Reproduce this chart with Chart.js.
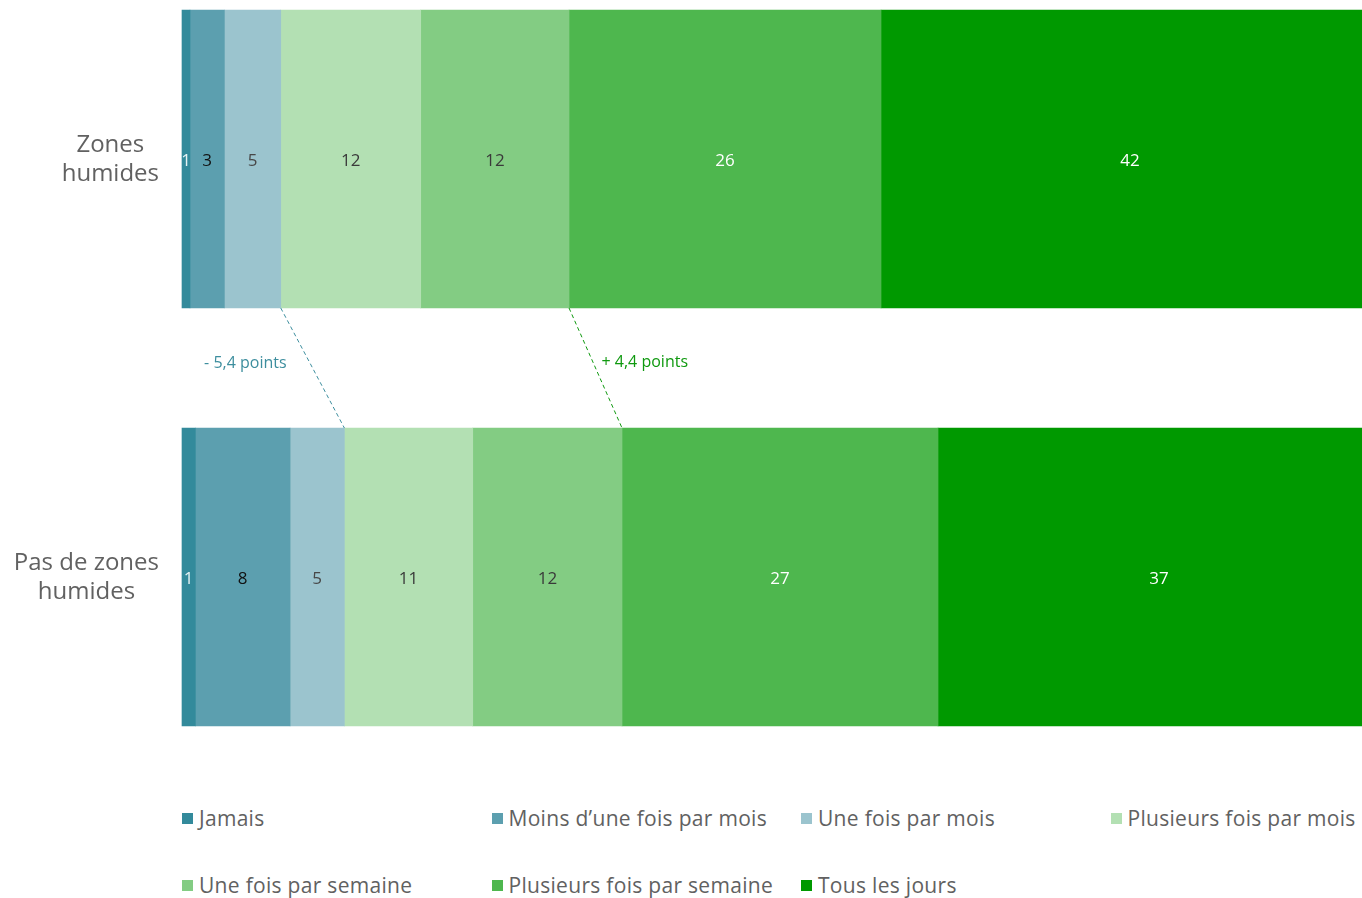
<!DOCTYPE html>
<html lang="fr">
<head>
<meta charset="utf-8">
<script src="https://cdn.jsdelivr.net/npm/chart.js@4"></script>
<style>
    body { margin: 0; background: #fff; font-family: "Open Sans", sans-serif; }
    #wrap { position: relative; width: 1362px; height: 760px; }
    #legend {
        display: grid;
        grid-template-columns: repeat(4, 309.5px);
        grid-auto-rows: 67px;
        margin-left: 182px;
        margin-top: 44px;
        color: #616161;
        font-size: 21px;
        letter-spacing: 0.3px;
        white-space: nowrap;
    }
    .item { display: flex; align-items: center; height: 28px; }
    .box { width: 11px; height: 11px; margin-right: 6px; flex: none; }
</style>
</head>
<body>
<div id="wrap"><canvas id="chart" width="1362" height="760"></canvas></div>
<div id="legend"></div>
<script>
const categories = [["Zones", "humides"], ["Pas de zones", "humides"]];
const seriesNames = [
    "Jamais", "Moins d\u2019une fois par mois", "Une fois par mois", "Plusieurs fois par mois",
    "Une fois par semaine", "Plusieurs fois par semaine", "Tous les jours"
];
const zonesHumides = [0.68, 2.91, 4.78, 11.86, 12.57, 26.44, 42.2];
const pasZonesHumides = [1.13, 8.03, 4.6, 10.88, 12.65, 26.78, 37.46];
const shownZones = [1, 3, 5, 12, 12, 26, 42];
const shownPas = [1, 8, 5, 11, 12, 27, 37];
const colors = ["#338a9b", "#5c9faf", "#9bc4ce", "#b3e0b3", "#83cc83", "#4eb74e", "#009900"];
const textColors = ["#e6f2f4", "#111111", "#474747", "#3a3a3a", "#3a3a3a", "#ffffff", "#ffffff"];
// differences between the two bars, at the boundary after `upTo` segments
const gaps = [
    { text: "- 5,4 points", upTo: 3, color: "#3d8e9e", side: "left" },
    { text: "+ 4,4 points", upTo: 5, color: "#0f990f", side: "right" }
];

const datasets = seriesNames.map((name, i) => ({
    label: name,
    data: [zonesHumides[i], pasZonesHumides[i]],
    shown: [shownZones[i], shownPas[i]],
    backgroundColor: colors[i],
    borderWidth: 0,
    barThickness: 298,
    clip: false
}));

const valueLabels = {
    id: "valueLabels",
    afterDatasetsDraw(chart) {
        const ctx = chart.ctx;
        ctx.save();
        ctx.font = "17px 'Open Sans'";
        ctx.textAlign = "center";
        ctx.textBaseline = "middle";
        chart.data.datasets.forEach((ds, d) => {
            chart.getDatasetMeta(d).data.forEach((bar, i) => {
                ctx.fillStyle = textColors[d];
                ctx.fillText(String(ds.shown[i]), (bar.x + bar.base) / 2, bar.y + 2);
            });
        });
        ctx.restore();
    }
};

const categoryLabels = {
    id: "categoryLabels",
    afterDraw(chart) {
        const ctx = chart.ctx;
        const yScale = chart.scales.y;
        const right = chart.chartArea.left - 23;
        ctx.save();
        ctx.font = "24px 'Open Sans'";
        ctx.fillStyle = "#616161";
        ctx.textAlign = "center";
        ctx.textBaseline = "middle";
        categories.forEach((lines, i) => {
            const w = Math.max(...lines.map((l) => ctx.measureText(l).width));
            const cx = right - w / 2;
            const cy = yScale.getPixelForValue(i);
            lines.forEach((l, k) => {
                ctx.fillText(l, cx, cy + 1 + (k - (lines.length - 1) / 2) * 29);
            });
        });
        ctx.restore();
    }
};

const gapLines = {
    id: "gapLines",
    afterDraw(chart) {
        const ctx = chart.ctx;
        ctx.save();
        gaps.forEach((g) => {
            const meta = chart.getDatasetMeta(g.upTo - 1);
            const top = meta.data[0];
            const bottom = meta.data[1];
            const x1 = top.x, y1 = top.y + top.height / 2;
            const x2 = bottom.x, y2 = bottom.y - bottom.height / 2;
            ctx.strokeStyle = g.color;
            ctx.lineWidth = 1;
            ctx.setLineDash([4, 3]);
            ctx.beginPath();
            ctx.moveTo(x1, y1);
            ctx.lineTo(x2, y2);
            ctx.stroke();
            ctx.setLineDash([]);
            ctx.font = "16px 'Open Sans'";
            ctx.fillStyle = g.color;
            ctx.textBaseline = "middle";
            const mx = (x1 + x2) / 2, my = (y1 + y2) / 2;
            if (g.side === "left") {
                ctx.textAlign = "right";
                ctx.fillText(g.text, mx - 26, my - 5);
            } else {
                ctx.textAlign = "left";
                ctx.fillText(g.text, mx + 6, my - 6);
            }
        });
        ctx.restore();
    }
};

new Chart(document.getElementById("chart"), {
    type: "bar",
    data: { labels: categories.map((c) => c.join(" ")), datasets },
    options: {
        indexAxis: "y",
        responsive: false,
        animation: false,
        layout: { padding: { left: 182, right: 0, top: 159, bottom: 183 } },
        scales: {
            x: { stacked: true, min: 0, max: 100, display: false },
            y: { stacked: true, offset: false, display: false }
        },
        plugins: { legend: { display: false }, tooltip: { enabled: false } }
    },
    plugins: [valueLabels, categoryLabels, gapLines]
});

const legendEl = document.getElementById("legend");
seriesNames.forEach((name, i) => {
    const item = document.createElement("div");
    item.className = "item";
    item.innerHTML = `<span class="box" style="background:${colors[i]}"></span><span>${name}</span>`;
    legendEl.appendChild(item);
});
</script>
</body>
</html>
